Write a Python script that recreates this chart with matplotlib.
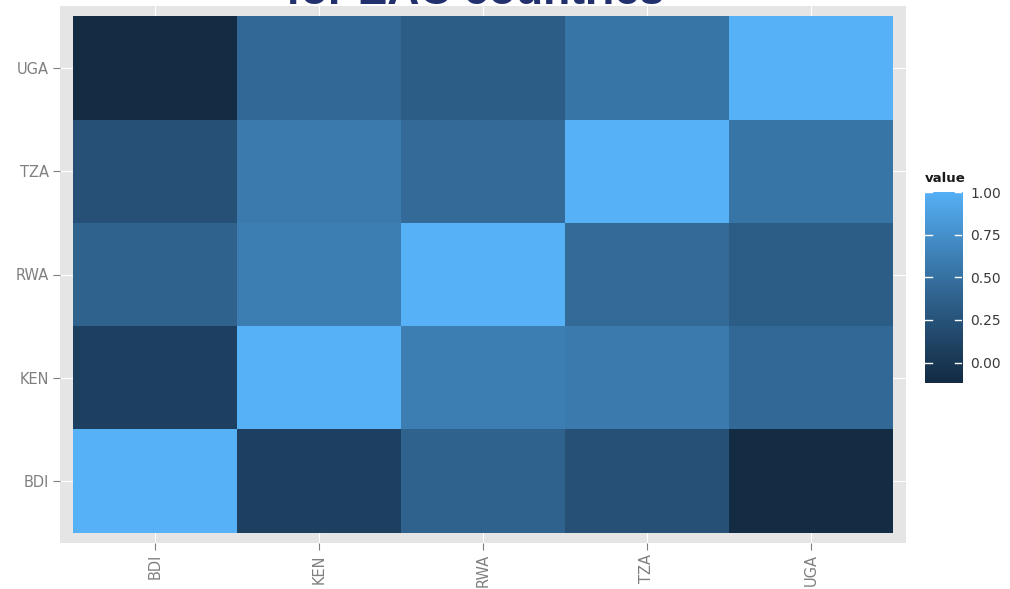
import numpy as np
import matplotlib
matplotlib.use('Agg')
import matplotlib.pyplot as plt
from matplotlib.colors import ListedColormap, Normalize

countries = ['BDI', 'KEN', 'RWA', 'TZA', 'UGA']

# correlation matrix, rows/cols in the order of `countries`
corr_bdi = [1.00, 0.08, 0.38, 0.22, -0.12]
corr_ken = [0.08, 1.00, 0.60, 0.57, 0.42]
corr_rwa = [0.38, 0.60, 1.00, 0.44, 0.33]
corr_tza = [0.22, 0.57, 0.44, 1.00, 0.53]
corr_uga = [-0.12, 0.42, 0.33, 0.53, 1.00]

cbar_ticks = [0.00, 0.25, 0.50, 0.75, 1.00]


def srgb_to_lab(rgb):
    rgb = np.asarray(rgb, float)
    lin = np.where(rgb <= 0.04045, rgb / 12.92, ((rgb + 0.055) / 1.055) ** 2.4)
    m = np.array([[0.4124, 0.3576, 0.1805],
                  [0.2126, 0.7152, 0.0722],
                  [0.0193, 0.1192, 0.9505]])
    xyz = lin @ m.T / np.array([0.95047, 1.0, 1.08883])
    f = np.where(xyz > 0.008856, np.cbrt(xyz), 7.787 * xyz + 16 / 116)
    return np.stack([116 * f[..., 1] - 16,
                     500 * (f[..., 0] - f[..., 1]),
                     200 * (f[..., 1] - f[..., 2])], axis=-1)


def lab_to_srgb(lab):
    lab = np.asarray(lab, float)
    fy = (lab[..., 0] + 16) / 116
    fx = fy + lab[..., 1] / 500
    fz = fy - lab[..., 2] / 200
    f = np.stack([fx, fy, fz], axis=-1)
    xyz = np.where(f ** 3 > 0.008856, f ** 3, (f - 16 / 116) / 7.787)
    xyz = xyz * np.array([0.95047, 1.0, 1.08883])
    minv = np.array([[3.2406, -1.5372, -0.4986],
                     [-0.9689, 1.8758, 0.0415],
                     [0.0557, -0.2040, 1.0570]])
    lin = np.clip(xyz @ minv.T, 0, 1)
    rgb = np.where(lin <= 0.0031308, 12.92 * lin, 1.055 * lin ** (1 / 2.4) - 0.055)
    return np.clip(rgb, 0, 1)


def gg_gradient(low='#132B43', high='#56B1F7', n=256):
    # same ramp as ggplot's default continuous fill, interpolated in Lab
    lo = srgb_to_lab(matplotlib.colors.to_rgb(low))
    hi = srgb_to_lab(matplotlib.colors.to_rgb(high))
    t = np.linspace(0, 1, n)[:, None]
    return ListedColormap(lab_to_srgb(lo + (hi - lo) * t))


mat = np.array([corr_bdi, corr_ken, corr_rwa, corr_tza, corr_uga])
cmap = gg_gradient()
norm = Normalize(vmin=mat.min(), vmax=mat.max())

W, H = 1010, 589
fig = plt.figure(figsize=(W / 100, H / 100), dpi=100)
fig.patch.set_facecolor('white')

ax = fig.add_axes([60 / W, 1 - 543 / H, 846 / W, 537 / H])
ax.set_facecolor('#E5E5E5')
n = len(countries)
ax.pcolormesh(np.arange(n + 1) - 0.5, np.arange(n + 1) - 0.5, mat,
              cmap=cmap, norm=norm, zorder=2)
ax.set_xlim(-0.58, n - 0.42)
ax.set_ylim(-0.6, n - 0.4)
ax.set_xticks(range(n))
ax.set_yticks(range(n))
ax.set_xticklabels(countries, rotation=90)
ax.set_yticklabels(countries)
ax.grid(True, color='white', linewidth=0.8, zorder=1)
ax.set_axisbelow(True)
for s in ax.spines.values():
    s.set_visible(False)
ax.tick_params(length=5, width=0.8, color='#7F7F7F', labelcolor='#7F7F7F',
               labelsize=10.5, pad=3)

# colour bar
cax = fig.add_axes([925 / W, 1 - 383 / H, 37 / W, 191 / H])
grad = np.linspace(norm.vmin, norm.vmax, 256)[:, None]
cax.imshow(grad, cmap=cmap, norm=norm, aspect='auto', origin='lower',
           extent=[0, 1, norm.vmin, norm.vmax])
cax.set_xlim(0, 1)
cax.set_ylim(norm.vmin, norm.vmax)
for t in cbar_ticks:
    cax.plot([0, 0.2], [t, t], color='white', lw=1)
    cax.plot([0.8, 1], [t, t], color='white', lw=1)
cax.set_xticks([])
cax.yaxis.tick_right()
cax.set_yticks(cbar_ticks)
cax.set_yticklabels(['%.2f' % t for t in cbar_ticks])
cax.tick_params(length=0, labelsize=10, labelcolor='#3a3a3a', pad=6)
for s in cax.spines.values():
    s.set_visible(False)
fig.text(925 / W, 1 - 182 / H, 'value', fontsize=9.5, fontweight='bold',
         ha='left', va='baseline', color='#1a1a1a')

fig.text(475 / W, 1 - 4 / H, 'for EAC countries', fontsize=32,
         fontweight='bold', family='Liberation Sans', color='#23306E',
         ha='center', va='baseline')

fig.savefig('out.png', dpi=100)
